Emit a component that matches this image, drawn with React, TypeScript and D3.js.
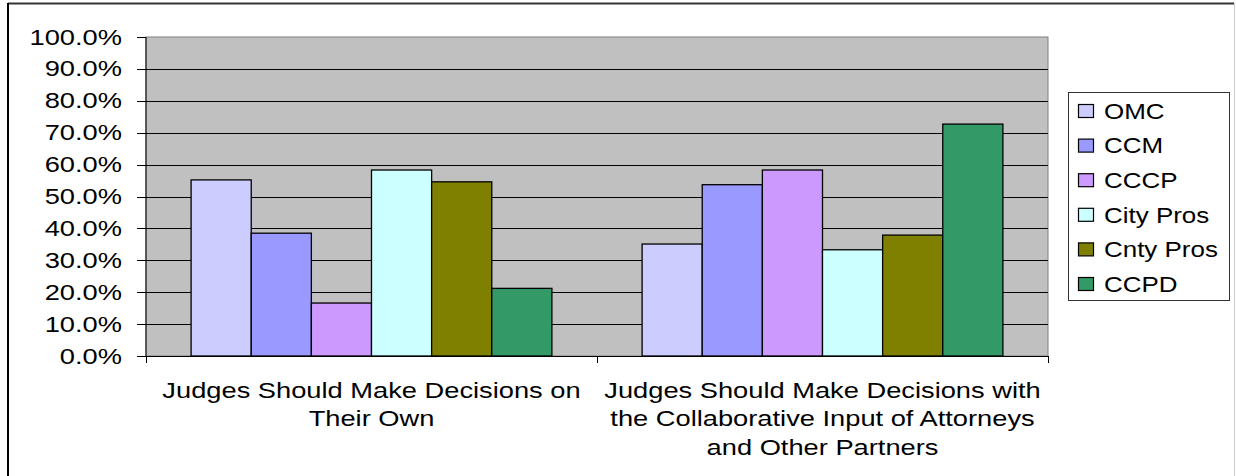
import React from "react";
import * as d3 from "d3";

const categories: string[][] = [
  ["Judges Should Make Decisions on", "Their Own"],
  ["Judges Should Make Decisions with", "the Collaborative Input of Attorneys", "and Other Partners"],
];
const seriesNames = ["OMC", "CCM", "CCCP", "City Pros", "Cnty Pros", "CCPD"];
const seriesColors = ["#CCCCFF", "#9999FF", "#CC99FF", "#CCFFFF", "#808000", "#339966"];
const omc = [0.552, 0.351];
const ccm = [0.385, 0.537];
const cccp = [0.166, 0.583];
const cityPros = [0.583, 0.333];
const cntyPros = [0.546, 0.379];
const ccpd = [0.212, 0.727];
const seriesValues = [omc, ccm, cccp, cityPros, cntyPros, ccpd];
const yTicks = [0, 0.1, 0.2, 0.3, 0.4, 0.5, 0.6, 0.7, 0.8, 0.9, 1.0];

const FONT = "'Liberation Sans', Arial, sans-serif";
const SX = 1.24;
const FS = 22;

function SText({ x, y, anchor, children, sx = SX, fs = FS }: any) {
  return (
    <text
      transform={`translate(${x},${y}) scale(${sx},1)`}
      textAnchor={anchor}
      dominantBaseline="central"
      fontFamily={FONT}
      fontSize={fs}
      fill="#000"
    >
      {children}
    </text>
  );
}

export default function App() {
  const W = 1236;
  const H = 476;
  const left = 146, right = 1048, top = 37, bottom = 356;
  const catIdx = categories.map((_, i) => String(i));
  const x0 = d3.scaleBand<string>().domain(catIdx).range([left, right]).padding(0);
  const x1 = d3.scaleBand<string>().domain(seriesNames).range([0, x0.bandwidth()]).paddingInner(0).paddingOuter(0.75);
  const y = d3.scaleLinear().domain([0, 1]).range([bottom, top]);
  const fmt = d3.format(".1%");

  const legendX = 1068, legendY = 92, legendW = 161, legendH = 208;
  const legendStep = 34.6;
  const legendFirst = 111;

  return (
    <svg width={W} height={H} style={{ position: "absolute", left: 0, top: 0, background: "#fff" }}>
      {/* outer frame */}
      <line x1={8} y1={3.5} x2={1234} y2={3.5} stroke="#333" strokeWidth={2} />
      <line x1={8} y1={3} x2={8} y2={H} stroke="#000" strokeWidth={2} />
      <line x1={1234.5} y1={3} x2={1234.5} y2={H} stroke="#ccc" strokeWidth={1} />

      {/* plot area */}
      <rect x={left} y={top} width={right - left} height={bottom - top} fill="#C0C0C0" stroke="#808080" strokeWidth={1} />
      {yTicks.slice(1, -1).map((t) => (
        <line key={t} x1={left} x2={right} y1={Math.round(y(t)) + 0.5} y2={Math.round(y(t)) + 0.5} stroke="#000" strokeWidth={1} />
      ))}

      {/* bars */}
      {catIdx.map((c, ci) => (
        <g key={c} transform={`translate(${x0(c)},0)`}>
          {seriesNames.map((s, si) => (
            <rect
              key={s}
              x={x1(s)}
              y={y(seriesValues[si][ci])}
              width={x1.bandwidth()}
              height={bottom - y(seriesValues[si][ci])}
              fill={seriesColors[si]}
              stroke="#000"
              strokeWidth={1.3}
            />
          ))}
        </g>
      ))}

      {/* axes */}
      <line x1={left} x2={left} y1={top} y2={bottom} stroke="#000" strokeWidth={1} />
      <line x1={left - 9} x2={right} y1={bottom + 0.5} y2={bottom + 0.5} stroke="#000" strokeWidth={1} />
      {yTicks.map((t) => (
        <g key={t}>
          <line x1={left - 9} x2={left} y1={Math.round(y(t)) + 0.5} y2={Math.round(y(t)) + 0.5} stroke="#000" strokeWidth={1} />
          <SText x={122} y={y(t)} anchor="end">{fmt(t)}</SText>
        </g>
      ))}
      {[left, x0("1")!, right].map((xv, i) => (
        <line key={i} x1={Math.round(xv) + 0.5} x2={Math.round(xv) + 0.5} y1={bottom} y2={bottom + 7} stroke="#000" strokeWidth={1} />
      ))}

      {/* category labels */}
      {categories.map((lines, ci) => (
        <g key={ci}>
          {lines.map((ln, li) => (
            <SText key={li} x={x0(String(ci))! + x0.bandwidth() / 2} y={390 + li * 28.5} anchor="middle">
              {ln}
            </SText>
          ))}
        </g>
      ))}

      {/* legend */}
      <rect x={legendX + 0.5} y={legendY + 0.5} width={legendW} height={legendH} fill="#fff" stroke="#333" strokeWidth={1} />
      {seriesNames.map((s, i) => (
        <g key={s}>
          <rect x={1078.5} y={legendFirst + i * legendStep - 6.5} width={15} height={13} fill={seriesColors[i]} stroke="#000" strokeWidth={1.2} />
          <SText x={1104} y={legendFirst + i * legendStep} anchor="start" sx={1.18}>{s}</SText>
        </g>
      ))}
    </svg>
  );
}
